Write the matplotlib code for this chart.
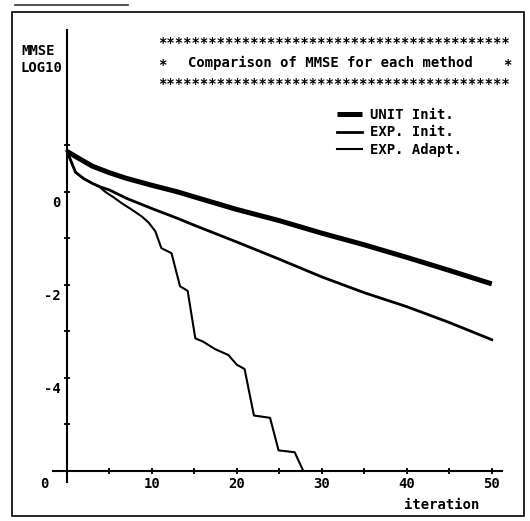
import matplotlib
matplotlib.use('Agg')
import matplotlib.pyplot as plt
from matplotlib.transforms import ScaledTranslation
from matplotlib.patches import Rectangle
from matplotlib.lines import Line2D

# ---------------- data ----------------
iter_unit = [0, 1, 3, 5, 7, 10, 13, 15, 20, 25, 30, 35, 40, 45, 50]
mmse_unit = [0.87, 0.76, 0.55, 0.41, 0.29, 0.14, 0.0, -0.11, -0.38, -0.62,
             -0.89, -1.14, -1.41, -1.69, -1.98]

iter_exp_init = [0, 1, 2, 3, 4, 5, 7, 10, 13, 15, 20, 25, 30, 35, 40, 45, 50]
mmse_exp_init = [0.87, 0.42, 0.28, 0.18, 0.10, 0.04, -0.14, -0.36, -0.57, -0.72,
                 -1.08, -1.45, -1.83, -2.17, -2.47, -2.81, -3.18]

iter_exp_adapt = [0, 1, 2, 3, 3.8, 4.5, 5.5, 6.4, 7.6, 8.8, 9.6, 10.4, 11.1, 12.3,
                  13.3, 14.2, 15.1, 16.0, 17.4, 19.0, 20.0, 20.9, 22.0, 23.9,
                  24.9, 26.8, 27.8]
mmse_exp_adapt = [0.87, 0.42, 0.28, 0.18, 0.11, 0.0, -0.12, -0.24, -0.38, -0.53,
                  -0.66, -0.85, -1.21, -1.32, -2.03, -2.13, -3.15, -3.22, -3.38,
                  -3.51, -3.72, -3.81, -4.81, -4.86, -5.56, -5.60, -6.0]

series_labels = ["UNIT Init.", "EXP. Init.", "EXP. Adapt."]
x_ticks = [0, 5, 10, 15, 20, 25, 30, 35, 40, 45, 50]
x_tick_labels = ["0", "", "10", "", "20", "", "30", "", "40", "", "50"]
y_ticks = [-5, -4, -3, -2, -1, 0, 1]
y_tick_labels = ["", "-4", "", "-2", "", "0", ""]
title_text = "Comparison of MMSE for each method"
y_label_lines = ["MMSE", "LOG10"]
x_label_text = "iteration"

# ---------------- figure ----------------
W, H = 530, 521
DPI = 100
fig = plt.figure(figsize=(W / DPI, H / DPI), dpi=DPI)
fig.patch.set_facecolor('white')

FONT = dict(family=['DejaVu Sans Mono'], weight='bold', size=10)

def fx(px):
    return px / W

def fy(py):
    return 1 - py / H

# axes area: x-axis line from px 53..502, y-axis line from py 30..482
ax = fig.add_axes([fx(53), fy(482), fx(502) - fx(53), fy(30) - fy(482)])
ax.set_xlim(-1.65, 51.2)
ax.set_ylim(-6.24, 3.48)

ax.plot(iter_unit, mmse_unit, color='black', lw=3.6, solid_capstyle='butt',
        label=series_labels[0])
ax.plot(iter_exp_init, mmse_exp_init, color='black', lw=2.0,
        label=series_labels[1])
ax.plot(iter_exp_adapt, mmse_exp_adapt, color='black', lw=1.5,
        label=series_labels[2])

for s in ['top', 'right']:
    ax.spines[s].set_visible(False)
ax.spines['left'].set_position(('data', 0))
ax.spines['bottom'].set_position(('data', -6))
for s in ['left', 'bottom']:
    ax.spines[s].set_linewidth(1.5)
    ax.spines[s].set_color('black')

ax.set_xticks(x_ticks)
ax.set_xticklabels(x_tick_labels, fontdict=FONT)
ax.set_yticks(y_ticks)
ax.set_yticklabels(y_tick_labels, fontdict=FONT)
ax.tick_params(axis='both', direction='inout', length=5, width=1.3,
               colors='black')
ax.tick_params(axis='x', pad=2)
ax.tick_params(axis='y', pad=2)

# y labels sit ~10 px below their tick
off_y = ScaledTranslation(0, -10 / DPI, fig.dpi_scale_trans)
for lab in ax.get_yticklabels():
    lab.set_transform(lab.get_transform() + off_y)
# the origin "0" of the x axis is written left of the y axis
off_x0 = ScaledTranslation(-23 / DPI, 0, fig.dpi_scale_trans)
ax.get_xticklabels()[0].set_transform(ax.get_xticklabels()[0].get_transform() + off_x0)

# legend
leg = ax.legend(loc='upper left', bbox_to_anchor=(fx(337), fy(108)),
                bbox_transform=fig.transFigure, frameon=False,
                prop=dict(family='DejaVu Sans Mono', weight='bold', size=10),
                handlelength=1.8, handletextpad=0.55, labelspacing=0.25,
                borderpad=0, borderaxespad=0)

# title block
fig.text(fx(158), fy(47), '*' * 42, ha='left', va='baseline', **FONT)
fig.text(fx(158), fy(69), '*', ha='left', va='baseline', **FONT)
fig.text(fx(188), fy(63), title_text, ha='left', va='center', **FONT)
fig.text(fx(503), fy(69), '*', ha='left', va='baseline', **FONT)
fig.text(fx(158), fy(88), '*' * 42, ha='left', va='baseline', **FONT)

# y axis name
fig.text(fx(21), fy(51), y_label_lines[0], ha='left', va='center', **FONT)
fig.text(fx(20), fy(68), y_label_lines[1], ha='left', va='center', **FONT)

# x axis name
fig.text(fx(404), fy(505), x_label_text, ha='left', va='center', **FONT)

# frame around the whole chart
fig.add_artist(Rectangle((fx(12), fy(516)), fx(524) - fx(12), fy(12) - fy(516),
                         transform=fig.transFigure, fill=False,
                         edgecolor='black', lw=1.2))
fig.add_artist(Line2D([fx(15), fx(128)], [fy(4.5), fy(4.5)],
                      transform=fig.transFigure, color='#333333', lw=1.2))

fig.savefig('out.png', dpi=DPI, facecolor='white')
